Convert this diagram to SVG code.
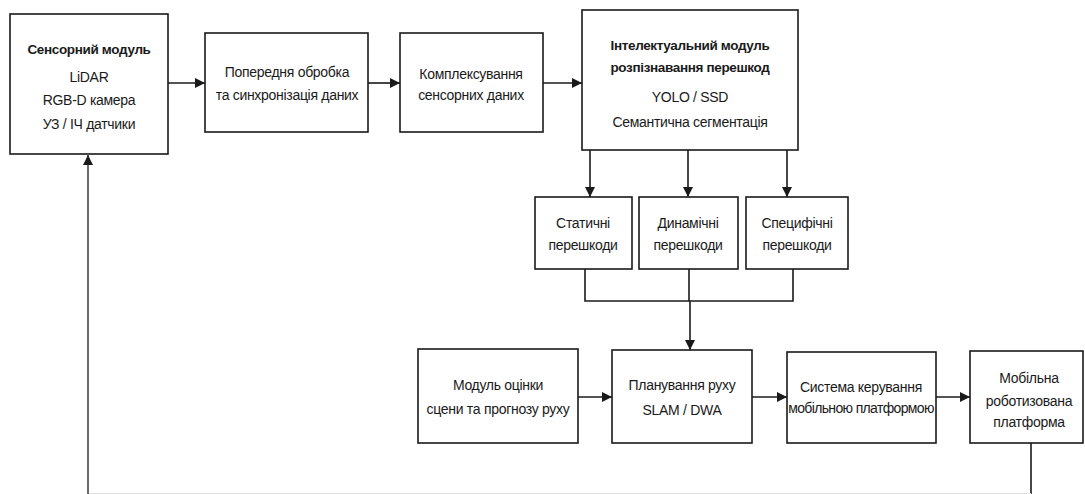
<svg xmlns="http://www.w3.org/2000/svg" width="1085" height="494" viewBox="0 0 1085 494">
  <style>
    .box { fill: #ffffff; stroke: #1a1a1a; stroke-width: 1.6; }
    .lbl { font-family: "Liberation Sans", Arial, sans-serif; font-size: 14px; letter-spacing: -0.3px; fill: #1a1a1a; text-anchor: middle; }
    .b { font-weight: bold; font-size: 13.5px; letter-spacing: -0.35px; }
    .tight { letter-spacing: -0.65px; }
    .wire { fill: none; stroke: #1a1a1a; stroke-width: 1.6; }
    .ret { fill: none; stroke: #6a6a6a; stroke-width: 2; }
  </style>
  <defs>
    <marker id="arrow" viewBox="0 0 10 10" refX="10" refY="5" markerWidth="10" markerHeight="10" markerUnits="userSpaceOnUse" orient="auto">
      <path d="M0,0 L10,5 L0,10 z" fill="#1a1a1a"/>
    </marker>
  </defs>
  <rect width="1085" height="494" fill="#ffffff"/>

  <!-- connectors -->
  <g id="connectors">
    <line class="wire" x1="168" y1="83" x2="205" y2="83" marker-end="url(#arrow)"/>
    <line class="wire" x1="368" y1="83" x2="400" y2="83" marker-end="url(#arrow)"/>
    <line class="wire" x1="543" y1="83" x2="582" y2="83" marker-end="url(#arrow)"/>
    <line class="wire" x1="590" y1="150" x2="590" y2="197" marker-end="url(#arrow)"/>
    <line class="wire" x1="688" y1="150" x2="688" y2="197" marker-end="url(#arrow)"/>
    <line class="wire" x1="787" y1="150" x2="787" y2="197" marker-end="url(#arrow)"/>
    <path class="wire" d="M585,269 V301 H793 V269"/>
    <line class="wire" x1="689" y1="269" x2="689" y2="301"/>
    <line class="wire" x1="690" y1="301" x2="690" y2="350" marker-end="url(#arrow)"/>
    <line class="wire" x1="578" y1="397" x2="612" y2="397" marker-end="url(#arrow)"/>
    <line class="wire" x1="752" y1="397" x2="787" y2="397" marker-end="url(#arrow)"/>
    <line class="wire" x1="936" y1="397" x2="970" y2="397" marker-end="url(#arrow)"/>
    <line class="wire" x1="1031" y1="443" x2="1031" y2="494"/>
    <line x1="89" y1="493.5" x2="1031" y2="493.5" stroke="#e2e2e2" stroke-width="1"/>
    <line class="ret" x1="88" y1="494" x2="88" y2="155" marker-end="url(#arrow)"/>
  </g>

  <g id="sensor">
    <rect class="box" x="10" y="14" width="158" height="140"/>
    <text class="lbl b" x="89" y="54">Сенсорний модуль</text>
    <text class="lbl" x="89" y="82">LiDAR</text>
    <text class="lbl" x="89" y="105">RGB-D камера</text>
    <text class="lbl" x="89" y="129">УЗ / ІЧ датчики</text>
  </g>

  <g id="preprocess">
    <rect class="box" x="205" y="33" width="163" height="99"/>
    <text class="lbl" x="287" y="77">Попередня обробка</text>
    <text class="lbl" x="287" y="100">та синхронізація даних</text>
  </g>

  <g id="fusion">
    <rect class="box" x="400" y="33" width="143" height="99"/>
    <text class="lbl" x="471" y="79">Комплексування</text>
    <text class="lbl" x="471" y="100">сенсорних даних</text>
  </g>

  <g id="recognition">
    <rect class="box" x="582" y="10" width="216" height="140"/>
    <text class="lbl b" x="690" y="50">Інтелектуальний модуль</text>
    <text class="lbl b" x="690" y="72">розпізнавання перешкод</text>
    <text class="lbl" x="690" y="102">YOLO / SSD</text>
    <text class="lbl" x="690" y="127">Семантична сегментація</text>
  </g>

  <g id="static">
    <rect class="box" x="535" y="197" width="97" height="72"/>
    <text class="lbl" x="583" y="228">Статичні</text>
    <text class="lbl" x="583" y="250">перешкоди</text>
  </g>

  <g id="dynamic">
    <rect class="box" x="639" y="197" width="99" height="72"/>
    <text class="lbl" x="688" y="228">Динамічні</text>
    <text class="lbl" x="688" y="250">перешкоди</text>
  </g>

  <g id="specific">
    <rect class="box" x="746" y="197" width="102" height="72"/>
    <text class="lbl" x="797" y="228">Специфічні</text>
    <text class="lbl" x="797" y="250">перешкоди</text>
  </g>

  <g id="scene">
    <rect class="box" x="418" y="349" width="160" height="94"/>
    <text class="lbl" x="498" y="390">Модуль оцінки</text>
    <text class="lbl" x="498" y="414">сцени та прогнозу руху</text>
  </g>

  <g id="planning">
    <rect class="box" x="612" y="350" width="140" height="93"/>
    <text class="lbl" x="682" y="390">Планування руху</text>
    <text class="lbl" x="682" y="415">SLAM / DWA</text>
  </g>

  <g id="control">
    <rect class="box" x="787" y="352" width="149" height="91"/>
    <text class="lbl" x="861" y="392">Система керування</text>
    <text class="lbl tight" x="861" y="413">мобільною платформою</text>
  </g>

  <g id="platform">
    <rect class="box" x="970" y="351" width="113" height="92"/>
    <text class="lbl" x="1029" y="383">Мобільна</text>
    <text class="lbl" x="1029" y="406">роботизована</text>
    <text class="lbl" x="1029" y="427">платформа</text>
  </g>
</svg>
